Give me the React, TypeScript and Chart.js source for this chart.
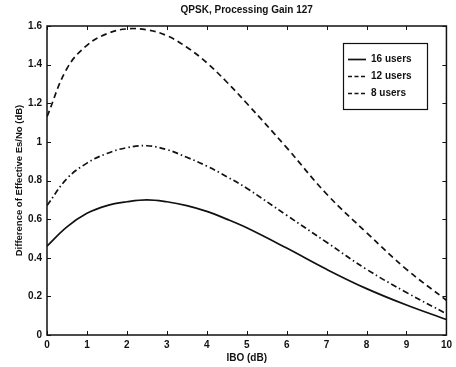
import React, { useEffect, useRef } from "react";
import { Chart, registerables } from "chart.js";

Chart.register(...registerables);

// Input back-off values (dB)
const ibo = [0, 0.5, 1, 1.5, 2, 2.5, 3, 3.5, 4, 4.5, 5, 6, 7, 8, 9, 10];

// Difference of effective Es/No (dB) per user count
const users16 = [0.46, 0.56, 0.63, 0.67, 0.69, 0.70, 0.69, 0.67, 0.64, 0.60, 0.555, 0.45, 0.34, 0.24, 0.155, 0.08];
const users12 = [1.13, 1.38, 1.50, 1.56, 1.585, 1.58, 1.55, 1.49, 1.41, 1.31, 1.20, 0.97, 0.73, 0.53, 0.34, 0.18];
const users8 = [0.67, 0.81, 0.89, 0.94, 0.97, 0.98, 0.96, 0.92, 0.875, 0.82, 0.76, 0.62, 0.48, 0.34, 0.22, 0.11];

const seriesLabels = ["16 users", "12 users", "8 users"];
const xTicks = [0, 1, 2, 3, 4, 5, 6, 7, 8, 9, 10];
const yTicks = [0, 0.2, 0.4, 0.6, 0.8, 1, 1.2, 1.4, 1.6];

const titleText = "QPSK, Processing Gain 127";
const xTitle = "IBO (dB)";
const yTitle = "Difference of Effective Es/No (dB)";

const FONT = "'Liberation Sans', Arial, Helvetica, sans-serif";
const INK = "#111";

const toPoints = (ys: number[]) => ibo.map((x, i) => ({ x, y: ys[i] }));

// Box outline, inward tick marks on all four sides, title and in-plot legend
const framePlugin = {
  id: "frame",
  afterDatasetsDraw(chart: any) {
    const { ctx, chartArea: a, scales } = chart;
    const xs = scales.x;
    const ys = scales.y;
    ctx.save();
    ctx.strokeStyle = INK;
    ctx.lineWidth = 1.5;
    ctx.strokeRect(a.left, a.top, a.right - a.left, a.bottom - a.top);

    ctx.lineWidth = 1;
    const tl = 4;
    ctx.beginPath();
    xTicks.forEach((v) => {
      const px = Math.round(xs.getPixelForValue(v)) + 0.5;
      ctx.moveTo(px, a.bottom);
      ctx.lineTo(px, a.bottom - tl);
      ctx.moveTo(px, a.top);
      ctx.lineTo(px, a.top + tl);
    });
    yTicks.forEach((v) => {
      const py = Math.round(ys.getPixelForValue(v)) + 0.5;
      ctx.moveTo(a.left, py);
      ctx.lineTo(a.left + tl, py);
      ctx.moveTo(a.right, py);
      ctx.lineTo(a.right - tl, py);
    });
    ctx.stroke();

    // title
    ctx.fillStyle = INK;
    ctx.font = `bold 10px ${FONT}`;
    ctx.textAlign = "center";
    ctx.textBaseline = "middle";
    ctx.fillText(titleText, (a.left + a.right) / 2, 10);

    // legend
    const bx = 343, by = 43, bw = 84, bh = 66;
    ctx.fillStyle = "#fff";
    ctx.fillRect(bx, by, bw, bh);
    ctx.lineWidth = 1.2;
    ctx.strokeStyle = INK;
    ctx.strokeRect(bx + 0.5, by + 0.5, bw, bh);
    chart.data.datasets.forEach((ds: any, i: number) => {
      const y = 59 + i * 17;
      ctx.save();
      ctx.strokeStyle = ds.borderColor;
      ctx.lineWidth = ds.borderWidth;
      ctx.setLineDash(ds.borderDash && ds.borderDash.length ? [4, 2.5] : []);
      ctx.beginPath();
      ctx.moveTo(348, y + 0.5);
      ctx.lineTo(366, y + 0.5);
      ctx.stroke();
      ctx.restore();
      ctx.fillStyle = INK;
      ctx.font = `bold 10px ${FONT}`;
      ctx.textAlign = "left";
      ctx.textBaseline = "middle";
      ctx.fillText(ds.label, 371, y + 0.5);
    });
    ctx.restore();
  },
};

export default function App() {
  const canvasRef = useRef<HTMLCanvasElement | null>(null);

  useEffect(() => {
    document.body.style.margin = "0";
    const canvas = canvasRef.current;
    if (!canvas) return;

    const lineStyle = {
      borderColor: INK,
      borderWidth: 1.7,
      pointRadius: 0,
      fill: false,
      tension: 0.4,
    };

    const chart = new Chart(canvas, {
      type: "line",
      data: {
        datasets: [
          { ...lineStyle, label: seriesLabels[0], data: toPoints(users16), borderDash: [] },
          { ...lineStyle, label: seriesLabels[1], data: toPoints(users12), borderDash: [6, 4] },
          { ...lineStyle, label: seriesLabels[2], data: toPoints(users8), borderDash: [6, 3, 1.5, 3] },
        ],
      },
      plugins: [framePlugin],
      options: {
        responsive: false,
        animation: false,
        layout: { padding: { top: 26, right: 8, left: 0, bottom: 0 } },
        plugins: {
          legend: { display: false },
          title: { display: false },
          tooltip: { enabled: false },
        },
        scales: {
          x: {
            type: "linear",
            min: 0,
            max: 10,
            afterFit: (s: any) => {
              s.height = 32;
            },
            afterBuildTicks: (s: any) => {
              s.ticks = xTicks.map((v) => ({ value: v }));
            },
            grid: { display: false, drawTicks: false },
            border: { display: false },
            ticks: {
              color: INK,
              font: { family: FONT, size: 10, weight: "bold" },
              padding: 4,
              maxRotation: 0,
              autoSkip: false,
            },
            title: {
              display: true,
              text: xTitle,
              color: INK,
              font: { family: FONT, size: 10, weight: "bold" },
              padding: { top: 0, bottom: 3 },
            },
          },
          y: {
            type: "linear",
            min: 0,
            max: 1.6,
            afterFit: (s: any) => {
              s.width = 47;
            },
            afterBuildTicks: (s: any) => {
              s.ticks = yTicks.map((v) => ({ value: v }));
            },
            grid: { display: false, drawTicks: false },
            border: { display: false },
            ticks: {
              color: INK,
              font: { family: FONT, size: 10, weight: "bold" },
              padding: 5,
              autoSkip: false,
              callback: (v: any) => String(Math.round(Number(v) * 10) / 10),
            },
            title: {
              display: true,
              text: yTitle,
              color: INK,
              font: { family: FONT, size: 9.5, weight: "bold" },
              padding: { top: 14, bottom: 0 },
            },
          },
        },
      },
    });

    return () => chart.destroy();
  }, []);

  return <canvas ref={canvasRef} width={456} height={367} style={{ display: "block" }} />;
}
